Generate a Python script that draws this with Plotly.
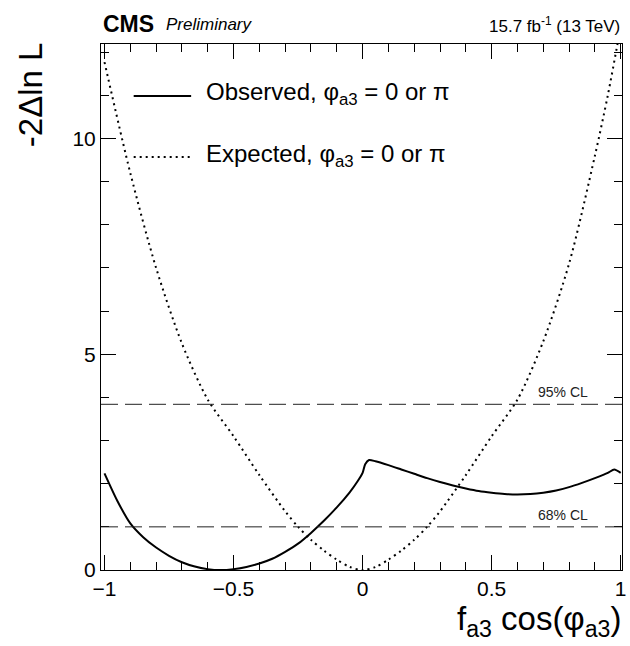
import plotly.graph_objects as go

# ---------------- data ----------------
obs_x = [-1.0, -0.95, -0.9, -0.85, -0.8, -0.75, -0.7, -0.65, -0.6, -0.55, -0.5, -0.45,
         -0.4, -0.35, -0.3, -0.25, -0.2, -0.15, -0.1, -0.05, -0.02, 0.0, 0.01, 0.025,
         0.05, 0.1, 0.15, 0.2, 0.25, 0.3, 0.35, 0.4, 0.45, 0.5, 0.55, 0.6, 0.65, 0.7,
         0.75, 0.8, 0.85, 0.9, 0.95, 0.975, 1.0]
obs_y = [2.24, 1.60, 1.08, 0.76, 0.52, 0.33, 0.18, 0.08, 0.02, 0.0, 0.02, 0.07,
         0.15, 0.26, 0.42, 0.61, 0.86, 1.14, 1.45, 1.80, 2.05, 2.25, 2.45, 2.55,
         2.52, 2.43, 2.33, 2.23, 2.13, 2.04, 1.96, 1.89, 1.83, 1.79, 1.76, 1.75, 1.76, 1.79,
         1.84, 1.92, 2.02, 2.13, 2.25, 2.33, 2.25]

exp_x = [-1.0, -0.9, -0.8, -0.7, -0.6, -0.5, -0.4, -0.3, -0.25, -0.2, -0.15, -0.1, -0.05, 0.0,
         0.05, 0.1, 0.15, 0.2, 0.25, 0.3, 0.4, 0.5, 0.6, 0.7, 0.8, 0.9, 0.95, 1.0]
exp_y = [11.77, 9.2, 7.0, 5.25, 3.95, 3.1, 2.2, 1.36, 1.0, 0.70, 0.45, 0.24, 0.07, 0.0,
         0.07, 0.24, 0.45, 0.70, 1.0, 1.36, 2.2, 3.1, 3.95, 5.3, 7.1, 9.6, 11.0, 12.6]

cl_levels = [1.0, 3.84]
cl_labels = ["68% CL", "95% CL"]

x_tickvals = [-1, -0.5, 0, 0.5, 1]
x_ticktext = ["\u22121", "\u22120.5", "0", "0.5", "1"]
y_tickvals = [0, 5, 10]
y_ticktext = ["0", "5", "10"]

obs_name = "Observed, \u03c6<sub>a3</sub> = 0 or \u03c0"
exp_name = "Expected, \u03c6<sub>a3</sub> = 0 or \u03c0"

# ---------------- layout geometry ----------------
W, H = 630, 646
L, R, T, B = 101, 3, 44, 76
X_RANGE = [-1.0135, 1.005]
Y_RANGE = [0, 12.19]
FONT = "Liberation Sans, Arial, Helvetica, sans-serif"

pw, ph = W - L - R, H - T - B


def px(xp):
    return (xp - L) / pw


def py(yp):
    return 1 - (yp - T) / ph


fig = go.Figure()

fig.add_trace(go.Scatter(x=exp_x, y=exp_y, mode="lines", name=exp_name,
                         line=dict(color="black", width=2, dash="2px,4px", shape="spline", smoothing=0.8),
                         showlegend=False))
fig.add_trace(go.Scatter(x=obs_x, y=obs_y, mode="lines", name=obs_name,
                         line=dict(color="black", width=2, shape="spline", smoothing=0.7),
                         showlegend=False))

shapes = []
annotations = []
for lvl, lab in zip(cl_levels, cl_labels):
    shapes.append(dict(type="line", xref="paper", x0=0, x1=1, yref="y", y0=lvl, y1=lvl,
                       line=dict(color="#222", width=1, dash="17px,7px")))
    annotations.append(dict(x=0.88, y=lvl, xref="x", yref="y", text=lab, showarrow=False,
                            xanchor="right", yanchor="bottom", yshift=2,
                            font=dict(family=FONT, size=14, color="#222")))

# manual legend
leg = [(obs_name, 96, "solid"), (exp_name, 157, "2px,4px")]
for name, yp, dash in leg:
    shapes.append(dict(type="line", xref="paper", yref="paper", x0=px(134), x1=px(192),
                       y0=py(yp), y1=py(yp), line=dict(color="black", width=2, dash=dash)))
    annotations.append(dict(x=px(205), y=py(yp), xref="paper", yref="paper", text=name,
                            showarrow=False, xanchor="left", yanchor="middle", yshift=2,
                            font=dict(family=FONT, size=24, color="black")))

# header texts
annotations.append(dict(x=px(101), y=py(24), xref="paper", yref="paper", text="<b>CMS</b>",
                        showarrow=False, xanchor="left", yanchor="middle",
                        font=dict(family=FONT, size=23, color="black")))
annotations.append(dict(x=px(165), y=py(25), xref="paper", yref="paper", text="<i>Preliminary</i>",
                        showarrow=False, xanchor="left", yanchor="middle",
                        font=dict(family=FONT, size=17, color="black")))
annotations.append(dict(x=px(627), y=py(25), xref="paper", yref="paper",
                        text="15.7 fb<sup>-1</sup> (13 TeV)",
                        showarrow=False, xanchor="right", yanchor="middle",
                        font=dict(family=FONT, size=17, color="black")))

# axis titles
annotations.append(dict(x=px(30), y=py(40), xref="paper", yref="paper", text="-2\u0394ln L",
                        showarrow=False, xanchor="center", yanchor="top", textangle=-90,
                        font=dict(family=FONT, size=33, color="black")))
annotations.append(dict(x=px(628), y=py(621), xref="paper", yref="paper",
                        text="f<sub>a3</sub> cos(\u03c6<sub>a3</sub>)",
                        showarrow=False, xanchor="right", yanchor="middle",
                        font=dict(family=FONT, size=33, color="black")))

axis_common = dict(showgrid=False, zeroline=False, showline=True, linecolor="black", linewidth=1,
                   mirror="ticks", ticks="inside", tickcolor="black", tickwidth=1,
                   ticklabeloverflow="allow",
                   tickfont=dict(family=FONT, size=21, color="black"))

fig.update_layout(
    width=W, height=H,
    margin=dict(l=L, r=R, t=T, b=B, pad=0),
    paper_bgcolor="white", plot_bgcolor="white",
    showlegend=False,
    shapes=shapes, annotations=annotations,
    xaxis=dict(range=X_RANGE, tickvals=x_tickvals, ticktext=x_ticktext, ticklen=15,
               minor=dict(dtick=0.1, tick0=0, ticks="inside", ticklen=8, tickcolor="black", tickwidth=1),
               **axis_common),
    yaxis=dict(range=Y_RANGE, tickvals=y_tickvals, ticktext=y_ticktext, ticklen=15,
               minor=dict(dtick=1, tick0=0, ticks="inside", ticklen=8, tickcolor="black", tickwidth=1),
               **axis_common),
)

fig.write_html("out.html", config={"displayModeBar": False},
               post_script="document.body.style.margin='0';document.body.style.padding='0';"
                           "document.body.style.overflow='hidden';")
